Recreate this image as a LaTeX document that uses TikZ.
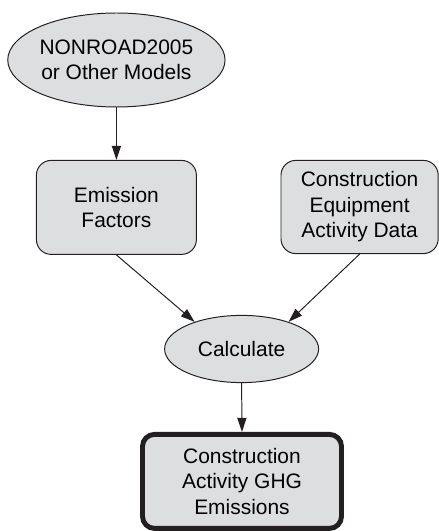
\documentclass[tikz,border=0pt]{standalone}
\usepackage{fontspec}
\setmainfont{Liberation Sans}
\usepackage{tikz}
\usetikzlibrary{arrows.meta,shapes.geometric}
\definecolor{boxgray}{RGB}{221,222,224}
\definecolor{inkgray}{RGB}{35,31,32}
\newcommand{\txt}{\fontsize{14.9}{18.2}\selectfont}
\tikzset{
	model/.style={ellipse, draw=inkgray, fill=boxgray, line width=0.7pt, align=center, inner sep=0pt, font=\txt},
	databox/.style={rectangle, rounded corners=0.37cm, draw=inkgray, fill=boxgray, line width=0.7pt, align=center, inner sep=0pt, font=\txt},
	resultbox/.style={databox, rounded corners=0.3cm, line width=3.5pt},
	flow/.style={-{Triangle[length=10pt,width=6.5pt]}, draw=inkgray, line width=0.7pt}
}

\begin{document}
\begin{tikzpicture}
	\useasboundingbox (0,0) rectangle (10.975,13.275);
	%source model
	\node[model, minimum width=5.3cm, minimum height=2.35cm] (nonroad) at (2.91,11.775) {NONROAD2005\\or Other Models};
	%inputs
	\node[databox, minimum width=4.0cm, minimum height=2.35cm] (factors) at (2.91,8.09) {Emission\\Factors};
	\node[databox, minimum width=3.93cm, minimum height=2.33cm] (activity) at (8.99,8.1) {Construction\\Equipment\\Activity Data};
	%calculation step
	\node[model, minimum width=3.85cm, minimum height=1.68cm] (calc) at (6.04,4.55) {Calculate};
	%result
	\node[resultbox, minimum width=4.975cm, minimum height=2.35cm] (ghg) at (6.05,1.24) {Construction\\Activity GHG\\Emissions};
	%arrows
	\draw[flow] (nonroad.south) -- (factors.north);
	\draw[flow] (factors.south) -- (calc.150);
	\draw[flow] (activity.south) -- (calc.30);
	\draw[flow] (calc.south) -- (ghg.north);
\end{tikzpicture}
\end{document}
